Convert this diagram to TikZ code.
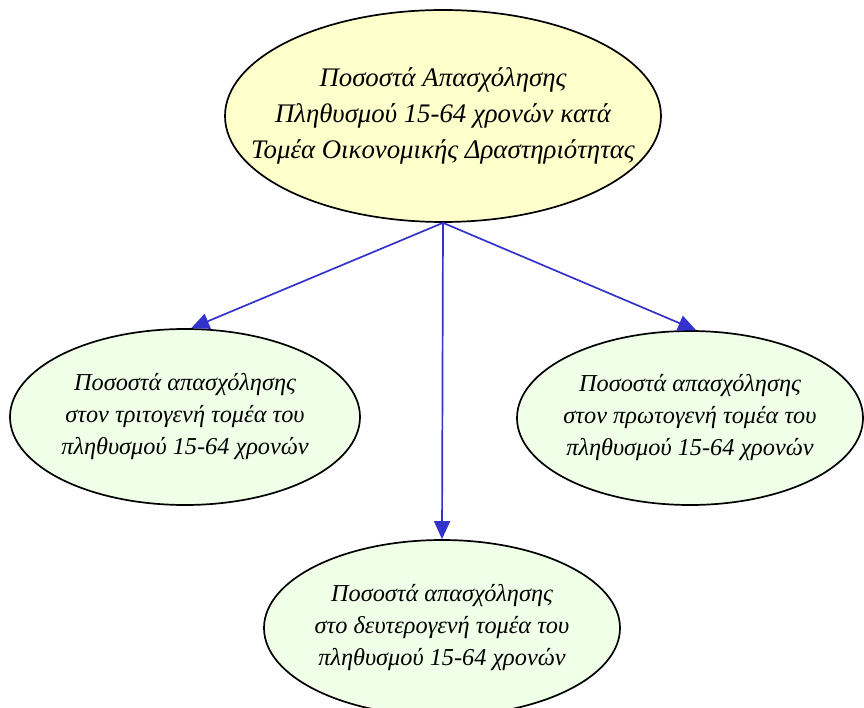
\documentclass[tikz,border=0pt]{standalone}
\usepackage{fontspec}
\setmainfont{Liberation Serif}
\usetikzlibrary{shapes.geometric,arrows.meta}
\definecolor{topfill}{HTML}{FFFFCC}
\definecolor{subfill}{HTML}{EFFFE8}
\definecolor{edgeblue}{HTML}{3333CC}
\begin{document}
\begin{tikzpicture}[x=1pt,y=-1pt,
  topnode/.style={ellipse,draw=black,line width=1.7pt,fill=topfill,minimum width=436pt,minimum height=212pt,inner sep=0pt,
    label={[align=center,font=\fontsize{26.8}{36}\selectfont\itshape]center:#1}},
  subnode/.style={ellipse,draw=black,line width=1.7pt,fill=subfill,minimum width=350pt,minimum height=176pt,inner sep=0pt,
    label={[align=center,font=\fontsize{24.3}{32}\selectfont\itshape]center:#1}},
  conn/.style={draw=edgeblue,line width=1.7pt,-{Triangle[length=18pt,width=16pt]}}]
\useasboundingbox (0,0) rectangle (864,708);
\clip (0,0) rectangle (864,708);
\node[topnode={Ποσοστά Απασχόλησης\\Πληθυσμού 15-64 χρονών κατά\\Τομέα Οικονομικής Δραστηριότητας}] (top) at (443,116) {};
\node[subnode={Ποσοστά απασχόλησης\\στον τριτογενή τομέα του\\πληθυσμού 15-64 χρονών}] (left) at (185,417) {};
\node[subnode={Ποσοστά απασχόλησης\\στον πρωτογενή τομέα του\\πληθυσμού 15-64 χρονών},minimum width=346pt,minimum height=174pt] (right) at (690,418) {};
\node[subnode={Ποσοστά απασχόλησης\\στο δευτερογενή τομέα του\\πληθυσμού 15-64 χρονών},minimum width=356pt] (bottom) at (442,628) {};
\coordinate (src) at (top.south);
\draw[conn] (src) -- (left.86);
\draw[conn] (src) -- (right.86);
\draw[conn] (src) -- (bottom.north);
\end{tikzpicture}
\end{document}
